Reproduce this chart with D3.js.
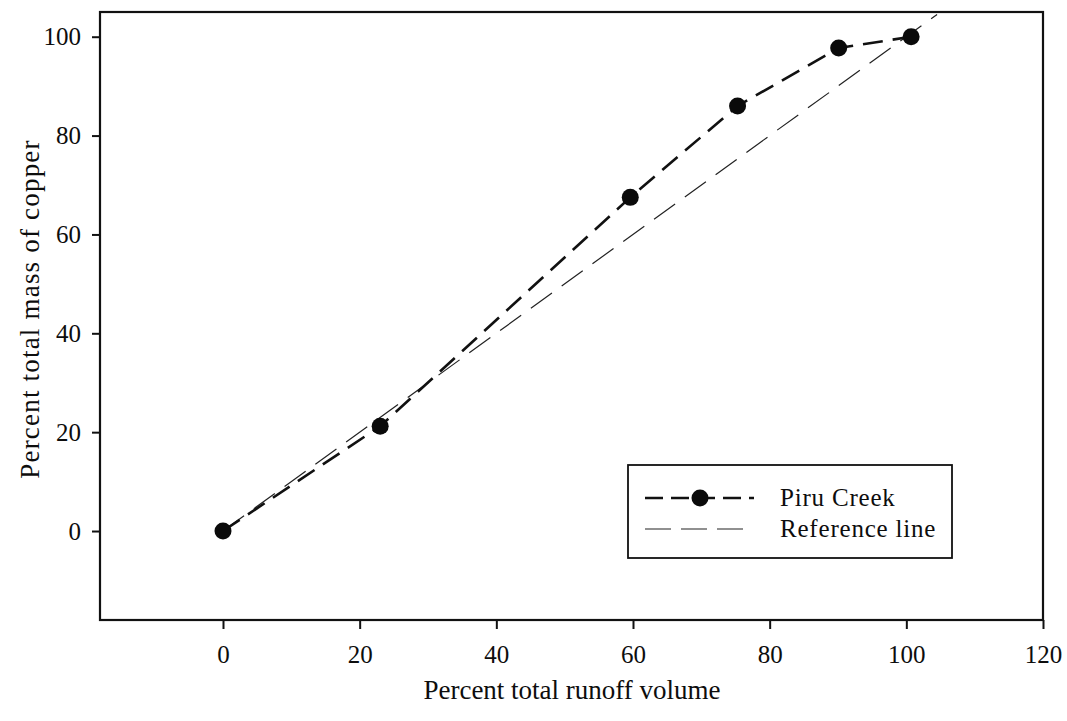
<!DOCTYPE html>
<html>
<head>
<meta charset="utf-8">
<script src="https://cdn.jsdelivr.net/npm/d3@7"></script>
<style>
  html, body { margin: 0; padding: 0; background: #fff; }
  svg text { font-family: "Liberation Serif", "Times New Roman", serif; fill: #0d0d0d; }
</style>
</head>
<body>
<svg id="chart" width="1067" height="721"></svg>
<script>
// data
const runoffPct = [0, 23, 59.6, 75.3, 90.1, 100.7];
const copperPct = [0, 21.2, 67.5, 86, 97.7, 100];
const refLine = [0, 104.5];
const xTicks = [0, 20, 40, 60, 80, 100, 120];
const yTicks = [0, 20, 40, 60, 80, 100];
const seriesNames = ['Piru Creek', 'Reference line'];

const svg = d3.select('#chart');
const plotL = 100, plotR = 1043, plotT = 12, plotB = 620;

const x = d3.scaleLinear().domain([-18, 120]).range([plotL, plotR]);
const y = d3.scaleLinear().domain([-18, 105]).range([plotB, plotT]);

// axes
const axisX = d3.axisBottom(x).tickValues(xTicks).tickSize(9).tickPadding(13).tickFormat(d3.format('d'));
const axisY = d3.axisLeft(y).tickValues(yTicks).tickSize(8).tickPadding(11).tickFormat(d3.format('d'));

svg.append('g')
  .attr('transform', 'translate(0,' + plotB + ')')
  .call(axisX)
  .call(g => g.select('.domain').remove())
  .call(g => g.selectAll('line').attr('stroke', '#111').attr('stroke-width', 2))
  .call(g => g.selectAll('text').attr('font-size', 25).attr('dy', '0.85em'));

svg.append('g')
  .attr('transform', 'translate(' + plotL + ',0)')
  .call(axisY)
  .call(g => g.select('.domain').remove())
  .call(g => g.selectAll('line').attr('stroke', '#111').attr('stroke-width', 2))
  .call(g => g.selectAll('text').attr('font-size', 25));

// frame
svg.append('rect')
  .attr('x', plotL).attr('y', plotT)
  .attr('width', plotR - plotL).attr('height', plotB - plotT)
  .attr('fill', 'none').attr('stroke', '#111').attr('stroke-width', 2.2);

// reference 1:1 line
svg.append('line')
  .attr('x1', x(refLine[0])).attr('y1', y(refLine[0]))
  .attr('x2', x(refLine[1])).attr('y2', y(refLine[1]))
  .attr('stroke', '#222').attr('stroke-width', 1.2)
  .attr('stroke-dasharray', '26,12');

// Piru Creek series
const pts = runoffPct.map((v, i) => [v, copperPct[i]]);
svg.append('path')
  .datum(pts)
  .attr('fill', 'none')
  .attr('stroke', '#111').attr('stroke-width', 2.6)
  .attr('stroke-dasharray', '20,10')
  .attr('d', d3.line().x(d => x(d[0])).y(d => y(d[1])));

svg.selectAll('.dot')
  .data(pts)
  .enter().append('circle')
  .classed('dot', true)
  .attr('cx', d => x(d[0])).attr('cy', d => y(d[1]))
  .attr('r', 8.5).attr('fill', '#0a0a0a');

// legend
const lg = svg.append('g');
lg.append('rect')
  .attr('x', 628).attr('y', 465).attr('width', 324).attr('height', 93)
  .attr('fill', '#fff').attr('stroke', '#111').attr('stroke-width', 1.8);
lg.append('line')
  .attr('x1', 645).attr('x2', 754).attr('y1', 498).attr('y2', 498)
  .attr('stroke', '#111').attr('stroke-width', 2.6).attr('stroke-dasharray', '18,8');
lg.append('circle').attr('cx', 700).attr('cy', 498).attr('r', 8.5).attr('fill', '#0a0a0a');
lg.append('line')
  .attr('x1', 645).attr('x2', 745).attr('y1', 529).attr('y2', 529)
  .attr('stroke', '#222').attr('stroke-width', 1.2).attr('stroke-dasharray', '26,10');
lg.selectAll('.lg-text')
  .data(seriesNames)
  .enter().append('text')
  .attr('x', 780).attr('y', (d, i) => 506 + i * 31)
  .attr('font-size', 25).attr('letter-spacing', 0.8)
  .text(d => d);

// axis titles
svg.append('text')
  .attr('x', 572).attr('y', 699)
  .attr('text-anchor', 'middle').attr('font-size', 27)
  .text('Percent total runoff volume');

svg.append('text')
  .attr('transform', 'translate(39,' + 309 + ') rotate(-90)')
  .attr('text-anchor', 'middle').attr('font-size', 27).attr('letter-spacing', 1.2)
  .text('Percent total mass of copper');
</script>
</body>
</html>
